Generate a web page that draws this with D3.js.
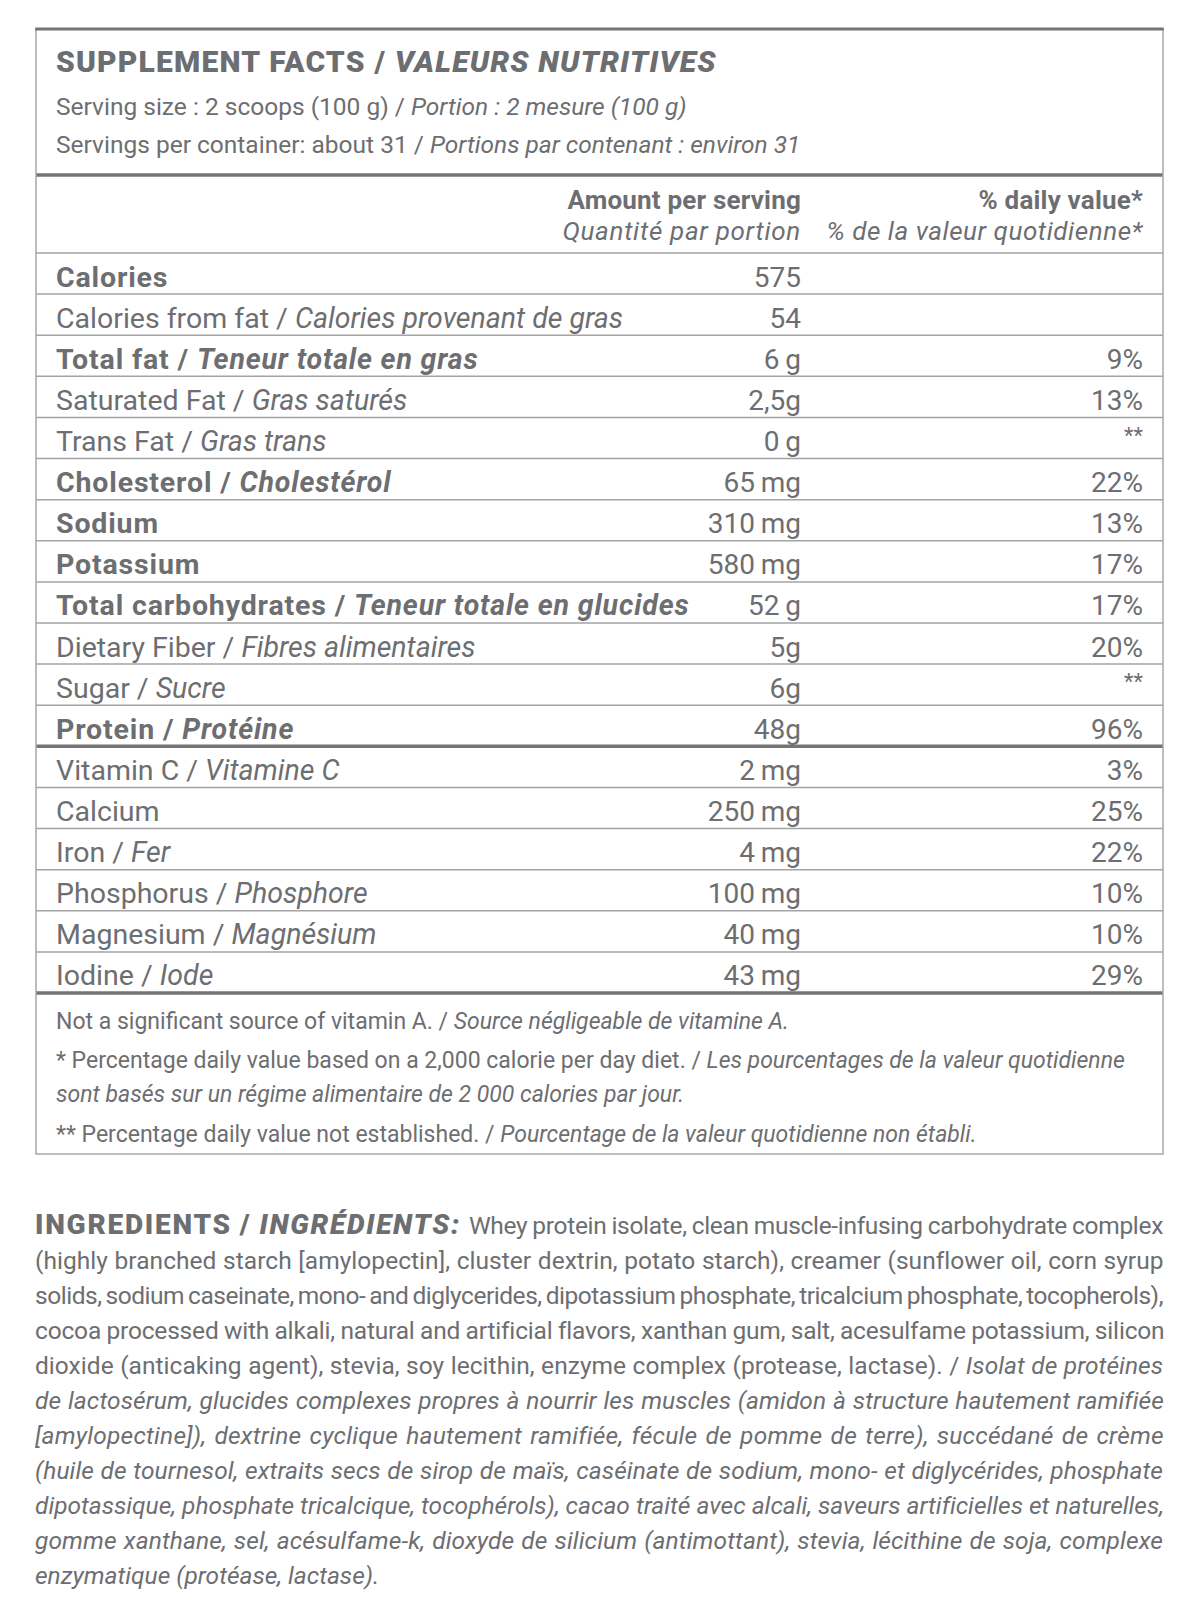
<!DOCTYPE html>
<html>
<head>
<meta charset="utf-8">
<script src="https://cdn.jsdelivr.net/npm/d3@7"></script>
<style>
  body { margin: 0; background: #fff; }
  svg text { font-family: Roboto, "Noto Sans", sans-serif; fill: #6d6e71; white-space: pre; }
</style>
</head>
<body>
<svg width="1200" height="1617"></svg>
<script>
// rows of the facts table
var nutrients = ["Calories", "Calories from fat", "Total fat", "Saturated Fat", "Trans Fat",
  "Cholesterol", "Sodium", "Potassium", "Total carbohydrates", "Dietary Fiber", "Sugar",
  "Protein", "Vitamin C", "Calcium", "Iron", "Phosphorus", "Magnesium", "Iodine"];
var nutrientsFr = ["", "Calories provenant de gras", "Teneur totale en gras", "Gras saturés", "Gras trans",
  "Cholestérol", "", "", "Teneur totale en glucides", "Fibres alimentaires", "Sucre",
  "Protéine", "Vitamine C", "", "Fer", "Phosphore", "Magnésium", "Iode"];
var amounts = ["575", "54", "6\u2009g", "2,5g", "0\u2009g", "65\u2009mg", "310\u2009mg", "580\u2009mg", "52\u2009g",
  "5g", "6g", "48g", "2\u2009mg", "250\u2009mg", "4\u2009mg", "100\u2009mg", "40\u2009mg", "43\u2009mg"];
var dailyValues = ["", "", "9%", "13%", "**", "22%", "13%", "17%", "17%", "20%", "**", "96%",
  "3%", "25%", "22%", "10%", "10%", "29%"];
var boldRows = ["Calories", "Total fat", "Cholesterol", "Sodium", "Potassium", "Total carbohydrates", "Protein"];
var thickAfter = ["Protein", "Iodine"];

var titleEn = "SUPPLEMENT FACTS", titleFr = "VALEURS NUTRITIVES";
var servingLines = [
  [["Serving size : 2 scoops (100 g) / ", "r"], ["Portion : 2 mesure (100 g)", "i"]],
  [["Servings per container: about 31 / ", "r"], ["Portions par contenant : environ 31", "i"]]
];
var amountHead = ["Amount per serving", "Quantité par portion"];
var dailyHead = ["% daily value*", "% de la valeur quotidienne*"];

var footnotes = [
  [["Not a significant source of vitamin A. / ", "r"], ["Source négligeable de vitamine A.", "i"]],
  [["* Percentage daily value based on a 2,000 calorie per day diet. / ", "r"], ["Les pourcentages de la valeur quotidienne", "i"]],
  [["sont basés sur un régime alimentaire de 2 000 calories par jour.", "i"]],
  [["** Percentage daily value not established. / ", "r"], ["Pourcentage de la valeur quotidienne non établi.", "i"]]
];

var ingredientLines = [
  [["INGREDIENTS / ", "h"], ["INGRÉDIENTS: ", "hi"], ["Whey protein isolate, clean muscle-infusing carbohydrate complex", "r"]],
  [["(highly branched starch [amylopectin], cluster dextrin, potato starch), creamer (sunflower oil, corn syrup", "r"]],
  [["solids, sodium caseinate, mono- and diglycerides, dipotassium phosphate, tricalcium phosphate, tocopherols),", "r"]],
  [["cocoa processed with alkali, natural and artificial flavors, xanthan gum, salt, acesulfame potassium, silicon", "r"]],
  [["dioxide (anticaking agent), stevia, soy lecithin, enzyme complex (protease, lactase). / ", "r"], ["Isolat de protéines", "i"]],
  [["de lactosérum, glucides complexes propres à nourrir les muscles (amidon à structure hautement ramifiée", "i"]],
  [["[amylopectine]), dextrine cyclique hautement ramifiée, fécule de pomme de terre), succédané de crème", "i"]],
  [["(huile de tournesol, extraits secs de sirop de maïs, caséinate de sodium, mono- et diglycérides, phosphate", "i"]],
  [["dipotassique, phosphate tricalcique, tocophérols), cacao traité avec alcali, saveurs artificielles et naturelles,", "i"]],
  [["gomme xanthane, sel, acésulfame-k, dioxyde de silicium (antimottant), stevia, lécithine de soja, complexe", "i"]],
  [["enzymatique (protéase, lactase).", "i"]]
];

var svg = d3.select("svg");
var box = {left: 36, right: 1163, top: 29, bottom: 1154},
    textX = 56, amountX = 801, dailyX = 1143;
var thin = "#a3a3a5", dark = "#747477";

var styles = {
  r:  {w: 400, s: "normal", ls: 0},
  i:  {w: 400, s: "italic", ls: 0},
  b:  {w: 700, s: "normal", ls: 0.85},
  bi: {w: 700, s: "italic", ls: 0.85},
  h:  {w: 900, s: "normal", ls: 1.2},
  hi: {w: 900, s: "italic", ls: 1.2}
};

function addText(g, x, y, segs, size, anchor) {
  var t = g.append("text")
    .attr("x", x).attr("y", y)
    .attr("font-size", size)
    .attr("text-anchor", anchor || "start");
  segs.forEach(function(s) {
    var st = styles[s[1]];
    t.append("tspan")
      .attr("font-weight", st.w)
      .attr("font-style", st.s)
      .attr("letter-spacing", st.ls ? st.ls + "px" : null)
      .text(s[0]);
  });
  return t;
}

var y = d3.scaleBand().domain(nutrients).range([253, 993]);
var rowH = y.bandwidth();

// title block
var head = svg.append("g");
addText(head, textX, 72, [[titleEn + " / ", "h"], [titleFr, "hi"]], 30);
servingLines.forEach(function(l, i) {
  addText(head, textX, 115 + i * 38, l, 24.5);
});

// column headings
addText(head, amountX, 209, [[amountHead[0], "b"]], 26, "end").select("tspan").attr("letter-spacing", "0.2px");
addText(head, amountX, 240, [[amountHead[1], "i"]], 26, "end").attr("letter-spacing", "0.7px");
addText(head, dailyX, 209, [[dailyHead[0], "b"]], 26, "end").select("tspan").attr("letter-spacing", "0.2px");
addText(head, dailyX, 240, [[dailyHead[1], "i"]], 26, "end").attr("letter-spacing", "0.55px");

// rows
var rows = svg.append("g").selectAll("g")
  .data(nutrients)
  .join("g")
  .attr("transform", function(d) { return "translate(0," + y(d) + ")"; });

rows.each(function(d, i) {
  var g = d3.select(this);
  var bold = boldRows.indexOf(d) >= 0;
  var segs = [[d, bold ? "b" : "r"]];
  if (nutrientsFr[i]) {
    segs[0][0] += " / ";
    segs.push([nutrientsFr[i], bold ? "bi" : "i"]);
  }
  addText(g, textX, rowH - 7.5, segs, 28.5);
  addText(g, amountX, rowH - 7.5, [[amounts[i], "r"]], 28, "end");
  if (dailyValues[i] === "**") {
    addText(g, dailyX, rowH - 16, [["**", "r"]], 22, "end");
  } else if (dailyValues[i]) {
    addText(g, dailyX, rowH - 7.5, [[dailyValues[i], "r"]], 28, "end");
  }
  g.append("line")
    .attr("x1", box.left).attr("x2", box.right)
    .attr("y1", rowH).attr("y2", rowH)
    .attr("stroke", thickAfter.indexOf(d) >= 0 ? dark : thin)
    .attr("stroke-width", thickAfter.indexOf(d) >= 0 ? 3.5 : 1.5);
});

// rules above the rows
svg.append("line")
  .attr("x1", box.left).attr("x2", box.right)
  .attr("y1", 175).attr("y2", 175)
  .attr("stroke", dark).attr("stroke-width", 3.5);
svg.append("line")
  .attr("x1", box.left).attr("x2", box.right)
  .attr("y1", y.range()[0]).attr("y2", y.range()[0])
  .attr("stroke", thin).attr("stroke-width", 1.5);

// footnotes
var foot = svg.append("g");
[1029, 1068, 1102, 1142].forEach(function(by, i) {
  addText(foot, textX, by, footnotes[i], 23);
});

// box frame
svg.append("rect")
  .attr("x", box.left).attr("y", box.top)
  .attr("width", box.right - box.left).attr("height", box.bottom - box.top)
  .attr("fill", "none").attr("stroke", "#a8a8aa").attr("stroke-width", 1.5);
svg.append("line")
  .attr("x1", box.left - 0.75).attr("x2", box.right + 0.75)
  .attr("y1", box.top).attr("y2", box.top)
  .attr("stroke", dark).attr("stroke-width", 3);

// ingredients, justified line by line
var ing = svg.append("g");
var ingLeft = 35, ingRight = 1163;
ingredientLines.forEach(function(segs, i) {
  var t = addText(ing, ingLeft, 1234 + i * 35, segs, 24.5);
  if (i === 0) {
    t.selectAll("tspan").filter(function(d, j) { return j < 2; })
      .attr("font-size", 28).attr("letter-spacing", "1.75px");
  }
  if (i < ingredientLines.length - 1) {
    var len = t.node().getComputedTextLength();
    var full = segs.map(function(s) { return s[0]; }).join("").trim();
    var spaces = (full.match(/ /g) || []).length;
    var extra = ingRight - ingLeft - len;
    var share = extra < 0 ? 0.75 : 0.5;
    var body = t.selectAll("tspan").filter(function(d, j) { return !(i === 0 && j < 2); });
    var chars = i === 0 ? segs[2][0].length : full.length;
    body.attr("letter-spacing", (extra * share / chars) + "px");
    t.style("word-spacing", (extra * (1 - share) / spaces) + "px");
  }
});
</script>
</body>
</html>
